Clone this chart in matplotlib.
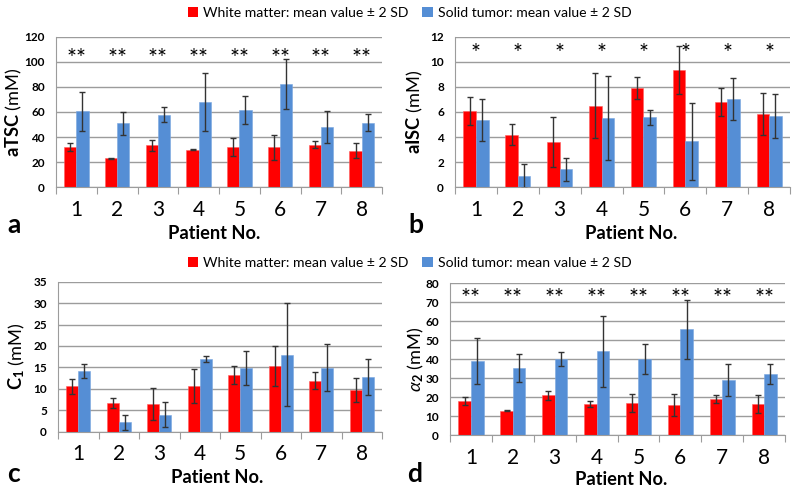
import numpy as np
import matplotlib
matplotlib.use("Agg")
import matplotlib.pyplot as plt
from matplotlib.patches import Patch
from matplotlib.transforms import offset_copy

plt.rcParams['font.family'] = ['Lato', 'DejaVu Sans']
plt.rcParams['mathtext.fontset'] = 'custom'
plt.rcParams['mathtext.rm'] = 'Lato'
plt.rcParams['mathtext.bf'] = 'Lato:bold'
plt.rcParams['mathtext.it'] = 'Lato:italic'

patients = ['1', '2', '3', '4', '5', '6', '7', '8']

# Panel a: aTSC
atsc_wm = [32, 23, 33.4, 30, 32, 32, 34, 29]
atsc_wm_err = [3, 0.5, 4.5, 0.3, 7, 10, 3, 6]
atsc_tu = [60.5, 51, 58, 68, 61.6, 82.6, 48, 51.5]
atsc_tu_err = [15.5, 9, 6, 23, 11, 20, 12.5, 7]
atsc_sig = ['**'] * 8

# Panel b: aISC
aisc_wm = [6.1, 4.2, 3.58, 6.5, 7.88, 9.32, 6.8, 5.84]
aisc_wm_err = [1.1, 0.85, 2.0, 2.6, 0.87, 1.9, 1.15, 1.7]
aisc_tu = [5.36, 0.88, 1.43, 5.5, 5.57, 3.66, 7.03, 5.68]
aisc_tu_err = [1.7, 0.95, 0.9, 3.35, 0.6, 3.05, 1.7, 1.75]
aisc_sig = ['*'] * 8

# Panel c: C1
c1_wm = [10.6, 6.7, 6.5, 10.7, 13.2, 15.3, 11.9, 9.8]
c1_wm_err = [1.8, 1.25, 3.7, 4.0, 2.1, 4.7, 2.0, 2.8]
c1_tu = [14.2, 2.2, 4.0, 17.0, 14.9, 18.0, 14.9, 12.75]
c1_tu_err = [1.6, 1.75, 3.0, 0.7, 3.9, 12.0, 5.5, 4.2]

# Panel d: alpha2
a2_wm = [18.2, 13, 21, 16.5, 17, 16.1, 19.1, 16.5]
a2_wm_err = [2, 0.3, 2.4, 1.8, 4.7, 5.8, 2.2, 4.6]
a2_tu = [39, 35.4, 40.2, 44.2, 40, 55.8, 29.1, 32.3]
a2_tu_err = [12.2, 7.4, 3.9, 18.6, 7.9, 15.6, 8.2, 5.1]
a2_sig = ['**'] * 8

legend_labels = ['White matter: mean value \u00b1 2 SD', 'Solid tumor: mean value \u00b1 2 SD']

RED = '#FF0000'
BLUE = '#558ED5'
GRID = '#9c9c9c'

fig = plt.figure(figsize=(8, 4.92), dpi=100)
renderer = fig.canvas.get_renderer()


def fit_size(s, target_px, base=10.0, **kw):
    t = fig.text(0, 0, s, fontsize=base, **kw)
    w = t.get_window_extent(renderer).width
    t.remove()
    return base * target_px / w


def px(l, t, r, b):
    return [l / 800, 1 - b / 492, (r - l) / 800, (b - t) / 492]


xlabel_fs = fit_size('Patient No.', 92, fontweight='bold')
ylabel_fs = fit_size(r'$\mathbf{aTSC}$ (mM)', 81) * 1.12
legend_fs = fit_size(legend_labels[0], 205)
sig_fs = 17

panels = [
    dict(rect=px(56, 36.7, 382, 187.3), wm=atsc_wm, wme=atsc_wm_err, tu=atsc_tu, tue=atsc_tu_err,
         ymax=120, step=20, ylabel=r'$\mathbf{aTSC}$ (mM)', sig=atsc_sig, sigy=108,
         letter='a', lpos=(7, 233), ylx=-0.13, xlx=0.485, xly=-0.343),
    dict(rect=px(455, 36.7, 790, 187.3), wm=aisc_wm, wme=aisc_wm_err, tu=aisc_tu, tue=aisc_tu_err,
         ymax=12, step=2, ylabel=r'$\mathbf{aISC}$ (mM)', sig=aisc_sig, sigy=11.2,
         letter='b', lpos=(408, 233), ylx=-0.119, xlx=0.525, xly=-0.341),
    dict(rect=px(58, 281.7, 382, 431.7), wm=c1_wm, wme=c1_wm_err, tu=c1_tu, tue=c1_tu_err,
         ymax=35, step=5, ylabel=r'$\mathbf{C}_{\mathbf{1}}$ (mM)', sig=None, sigy=None,
         letter='c', lpos=(7, 482), ylx=-0.127, xlx=0.492, xly=-0.342),
    dict(rect=px(450, 283.3, 785, 435.3), wm=a2_wm, wme=a2_wm_err, tu=a2_tu, tue=a2_tu_err,
         ymax=80, step=10, ylabel=r'$\alpha_{\mathbf{2}}$ (mM)', sig=a2_sig, sigy=75.3,
         letter='d', lpos=(407, 482), ylx=-0.101, xlx=0.51, xly=-0.324),
]

x = np.arange(len(patients))
w = 0.3
for p in panels:
    ax = fig.add_axes(p['rect'])
    ax.bar(x - w / 2, p['wm'], w, color=RED, edgecolor='#ff6060', linewidth=0.4, zorder=2)
    ax.bar(x + w / 2, p['tu'], w, color=BLUE, edgecolor='#7aa6e0', linewidth=0.4, zorder=2)
    ekw = dict(fmt='none', ecolor='#333333', elinewidth=1.0, capsize=2.5, capthick=1.0, zorder=3)
    ax.errorbar(x - w / 2, p['wm'], yerr=p['wme'], **ekw)
    ax.errorbar(x + w / 2, p['tu'], yerr=p['tue'], **ekw)
    ax.set_xlim(-0.5, len(patients) - 0.5)
    ax.set_ylim(0, p['ymax'])
    ax.set_yticks(np.arange(0, p['ymax'] + 0.001, p['step']))
    ax.yaxis.set_major_formatter(matplotlib.ticker.FormatStrFormatter('%d'))
    for lab in ax.get_yticklabels():
        lab.set_fontweight('bold')
    ax.tick_params(axis='y', length=0, pad=8, labelsize=8.5)
    ax.grid(axis='y', color=GRID, linewidth=1.0, zorder=0)
    ax.set_axisbelow(True)
    for s in ['top', 'right']:
        ax.spines[s].set_visible(False)
    ax.spines['left'].set_color(GRID)
    ax.spines['bottom'].set_color(GRID)
    ax.set_xticks(np.arange(-0.5, len(patients) + 0.5, 1.0))
    ax.set_xticklabels([])
    ax.tick_params(axis='x', which='major', length=5, color=GRID, direction='out')
    ax.set_xticks(x, minor=True)
    ax.set_xticklabels(patients, minor=True)
    ax.tick_params(axis='x', which='minor', length=0, pad=9, labelsize=15)
    ax.set_xlabel('Patient No.', fontsize=xlabel_fs, fontweight='bold', va='baseline')
    ax.xaxis.set_label_coords(p['xlx'], p['xly'])
    ax.set_ylabel(p['ylabel'], fontsize=ylabel_fs, va='center')
    ax.yaxis.set_label_coords(p['ylx'], 0.5)
    if p['sig'] is not None:
        tr = offset_copy(ax.transData, fig=fig, y=-0.56 * sig_fs, units='points')
        for xi, s in zip(x, p['sig']):
            ax.text(xi, p['sigy'], s, ha='center', va='baseline', fontsize=sig_fs,
                    transform=tr, zorder=4)
    fig.text(p['lpos'][0] / 800, 1 - p['lpos'][1] / 492, p['letter'], fontsize=19,
             fontweight='bold', ha='left', va='baseline')

handles = [Patch(facecolor=RED), Patch(facecolor=BLUE)]
for yc in [0.974, 0.4654]:
    fig.legend(handles, legend_labels, loc='center', bbox_to_anchor=(0.512, yc), ncol=2,
               frameon=False, fontsize=legend_fs, handlelength=0.75, handleheight=0.75,
               handletextpad=0.35, columnspacing=1.0, borderaxespad=0)

fig.savefig('out.png', dpi=100)
